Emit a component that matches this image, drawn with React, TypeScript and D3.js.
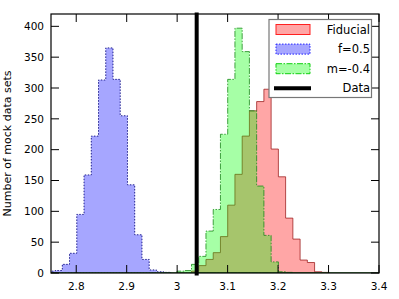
import * as d3 from 'd3';

// histogram bins share one width; each series keeps its own first edge
const binWidth = 0.01435;

const fiducialStart = 3.0284;
const fiducialCounts = [3, 12, 22, 33, 59, 110, 160, 222, 263, 278, 298, 201, 156, 89, 55, 21, 17, 2, 1];

const fHalfStart = 2.7437;
const fHalfCounts = [3, 4, 14, 32, 95, 159, 222, 313, 365, 314, 255, 143, 62, 22, 5, 2, 1];

const mNegStart = 2.9997;
const mNegCounts = [3, 4, 14, 27, 68, 103, 225, 314, 397, 359, 263, 141, 61, 18, 2, 1];

const dataValue = 3.0387;

const xTicks = [2.8, 2.9, 3.0, 3.1, 3.2, 3.3, 3.4];
const yTicks = [0, 50, 100, 150, 200, 250, 300, 350, 400];
const legendLabels = ['Fiducial', 'f=0.5', 'm=-0.4', 'Data'];

const W = 399;
const H = 299;
const margin = { top: 14, right: 20, bottom: 26, left: 51 };
const innerW = W - margin.left - margin.right;
const innerH = H - margin.top - margin.bottom;

const x = d3.scaleLinear().domain([2.75, 3.4]).range([0, innerW]);
const y = d3.scaleLinear().domain([0, 420]).range([innerH, 0]);

function stepPath(start: number, counts: number[]) {
  const pts: [number, number][] = [[start, 0]];
  counts.forEach((c, i) => {
    pts.push([start + i * binWidth, c]);
    pts.push([start + (i + 1) * binWidth, c]);
  });
  pts.push([start + counts.length * binWidth, 0]);
  const line = d3
    .line<[number, number]>()
    .x(d => x(d[0]))
    .y(d => y(d[1]));
  return line(pts) + 'Z';
}

const font = 'DejaVu Sans, sans-serif';

export default function App() {
  const tickLen = 8;
  const legend = { x: 269, y: 19.5, w: 102.5, h: 78 };
  const rowY = (i: number) => 29.5 + i * 19.6 - margin.top;

  return (
    <svg
      width={W}
      height={H}
      style={{ position: 'absolute', left: 0, top: 0, background: '#fff' }}
    >
      <defs>
        <clipPath id="plot">
          <rect x={0} y={0} width={innerW} height={innerH} />
        </clipPath>
      </defs>
      <g transform={`translate(${margin.left},${margin.top})`}>
        <g clipPath="url(#plot)">
          <path
            d={stepPath(fHalfStart, fHalfCounts)}
            fill="#0000ff"
            fillOpacity={0.35}
            stroke="#00007a"
            strokeOpacity={0.85}
            strokeWidth={1}
            strokeDasharray="1.5,1.5"
          />
          <path
            d={stepPath(fiducialStart, fiducialCounts)}
            fill="#ff0000"
            fillOpacity={0.35}
            stroke="#9a1a1a"
            strokeOpacity={0.75}
            strokeWidth={1}
          />
          <path
            d={stepPath(mNegStart, mNegCounts)}
            fill="#00ff00"
            fillOpacity={0.35}
            stroke="#1a8a1a"
            strokeOpacity={0.8}
            strokeWidth={1}
            strokeDasharray="6,1.5,1.5,1.5"
          />
          <line
            x1={0}
            x2={innerW}
            y1={y(0)}
            y2={y(0)}
            stroke="#1f6a1f"
            strokeWidth={1.5}
          />
        </g>
        <line
          x1={x(dataValue)}
          x2={x(dataValue)}
          y1={-1.5}
          y2={innerH + 2.5}
          stroke="#000"
          strokeWidth={4}
        />

        {/* frame + inward ticks on all four sides */}
        <rect x={0} y={0} width={innerW} height={innerH} fill="none" stroke="#000" strokeWidth={1.2} />
        {xTicks.map(t => (
          <g key={'x' + t}>
            <line x1={x(t)} x2={x(t)} y1={innerH} y2={innerH - tickLen} stroke="#000" />
            <line x1={x(t)} x2={x(t)} y1={0} y2={tickLen} stroke="#000" />
            <text
              x={x(t)}
              y={innerH + 17}
              textAnchor="middle"
              fontFamily={font}
              fontSize={10.5}
              fill="#000"
            >
              {t === 3 ? '3' : d3.format('.1f')(t)}
            </text>
          </g>
        ))}
        {yTicks.map(t => (
          <g key={'y' + t}>
            <line x1={0} x2={tickLen} y1={y(t)} y2={y(t)} stroke="#000" />
            <line x1={innerW} x2={innerW - tickLen} y1={y(t)} y2={y(t)} stroke="#000" />
            <text
              x={-7}
              y={y(t)}
              dy="0.36em"
              textAnchor="end"
              fontFamily={font}
              fontSize={10.5}
              fill="#000"
            >
              {t}
            </text>
          </g>
        ))}
        <text
          transform={`translate(${-40},${innerH / 2}) rotate(-90)`}
          textAnchor="middle"
          fontFamily={font}
          fontSize={11}
          fill="#000"
        >
          Number of mock data sets
        </text>

        {/* legend */}
        <rect
          x={legend.x - margin.left}
          y={legend.y - margin.top}
          width={legend.w}
          height={legend.h}
          fill="#fff"
          stroke="#777"
          strokeWidth={1.2}
        />
        <rect x={276 - margin.left} y={rowY(0) - 5} width={34} height={10} fill="#ff0000" fillOpacity={0.35} stroke="#ff2020" strokeWidth={1} />
        <rect x={276 - margin.left} y={rowY(1) - 5} width={34} height={10} fill="#0000ff" fillOpacity={0.35} stroke="#2020ff" strokeWidth={1} strokeDasharray="1.5,1.5" />
        <rect x={276 - margin.left} y={rowY(2) - 5} width={34} height={10} fill="#00ff00" fillOpacity={0.35} stroke="#10d010" strokeWidth={1} strokeDasharray="6,1.5,1.5,1.5" />
        <line x1={274 - margin.left} x2={311 - margin.left} y1={rowY(3)} y2={rowY(3)} stroke="#000" strokeWidth={4} />
        {legendLabels.map((l, i) => (
          <text
            key={l}
            x={370 - margin.left}
            y={rowY(i)}
            dy="0.36em"
            textAnchor="end"
            fontFamily={font}
            fontSize={11.5}
            fill="#000"
          >
            {l}
          </text>
        ))}
      </g>
    </svg>
  );
}
